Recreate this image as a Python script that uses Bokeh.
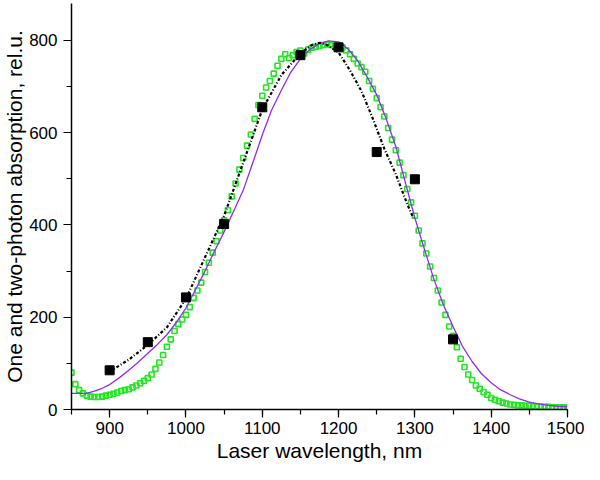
from bokeh.plotting import figure
from bokeh.models import Range1d, SingleIntervalTicker
from bokeh.embed import file_html
from bokeh.resources import INLINE

# Measured two-photon absorption (black squares)
meas_x = [900, 950, 1000, 1050, 1100, 1150, 1200, 1250, 1300, 1350]
meas_y = [85, 146, 243, 402, 655, 768, 785, 558, 499, 152]

# Fit through measured points (black dotted)
fit_x = [900, 925, 950, 975, 1000, 1025, 1050, 1075, 1100, 1125, 1150, 1165,
         1175, 1185, 1200, 1215, 1230, 1245, 1260, 1275, 1290, 1298]
fit_y = [82, 108, 140, 178, 240, 330, 420, 535, 650, 725, 772, 790,
         795, 790, 774, 735, 690, 630, 565, 510, 445, 415]

# One-photon absorption, calculated (violet line)
calc_x = [850, 870, 880, 890, 900, 912, 925, 937, 950, 962, 975, 987,
          1000, 1012, 1025, 1037, 1050, 1062, 1075, 1087, 1100, 1112,
          1125, 1137, 1150, 1162, 1175, 1187, 1200, 1212, 1225, 1237,
          1250, 1262, 1275, 1287, 1300, 1312, 1325, 1337, 1350, 1362,
          1375, 1387, 1400, 1412, 1425, 1437, 1450, 1462, 1475, 1487, 1500]
calc_y = [35, 35, 40, 46, 54, 68, 85, 102, 122, 140, 162, 188,
          220, 258, 300, 342, 385, 428, 475, 532, 595, 648,
          692, 730, 760, 780, 793, 799, 797, 782, 756, 722,
          682, 632, 570, 495, 415, 350, 282, 228, 180, 138,
          104, 78, 58, 43, 32, 23, 16, 12, 9, 7, 6]

# One-photon absorption spectrum (green open squares), 5 nm step from 850 nm
spec_x = list(range(850, 1505, 5))
spec_y = [80, 55, 42, 35, 30, 28, 27, 27, 28, 30,
          32, 34, 37, 40, 42, 44, 48, 52, 57, 62,
          68, 76, 88, 102, 118, 136, 152, 170, 185, 195,
          205, 222, 242, 258, 275, 298, 318, 340, 365, 388,
          410, 432, 462, 490, 520, 545, 572, 596, 630, 660,
          680, 698, 712, 728, 745, 760, 770, 762, 768, 775,
          778, 772, 780, 784, 786, 788, 790, 791, 790, 788,
          788, 785, 778, 770, 760, 750, 742, 732, 712, 695,
          675, 655, 635, 610, 585, 562, 535, 508, 478, 449,
          420, 388, 360, 338, 310, 285, 258, 232, 205, 180,
          160, 135, 110, 92, 76, 64, 52, 45, 38, 32,
          25, 21, 18, 15, 13, 11, 10, 9, 9, 8,
          8, 7, 7, 6, 6, 6, 5, 5, 5, 5, 4]

FONT = "Liberation Sans"

p = figure(width=584, height=464, output_backend="svg", toolbar_location=None,
           x_range=Range1d(850, 1500), y_range=Range1d(0, 880),
           min_border_left=0, min_border_right=17, min_border_top=3,
           min_border_bottom=0)
p.outline_line_color = None
p.xgrid.visible = False
p.ygrid.visible = False
p.background_fill_color = "white"
p.border_fill_color = "white"

p.xaxis.ticker = SingleIntervalTicker(interval=100, num_minor_ticks=2)
p.yaxis.ticker = SingleIntervalTicker(interval=200, num_minor_ticks=2)
p.xaxis.axis_label = "Laser wavelength, nm"
p.yaxis.axis_label = "One and two-photon absorption, rel.u."
for ax in (p.xaxis, p.yaxis):
    ax.axis_line_color = "black"
    ax.axis_line_width = 1.5
    ax.major_tick_line_color = "black"
    ax.minor_tick_line_color = "black"
    ax.major_tick_line_width = 1.2
    ax.minor_tick_line_width = 1.2
    ax.major_tick_out = 8
    ax.major_tick_in = 0
    ax.minor_tick_out = 5
    ax.minor_tick_in = 0
    ax.major_label_text_font = FONT
    ax.major_label_text_font_size = "17px"
    ax.major_label_text_color = "black"
    ax.axis_label_text_font = FONT
    ax.axis_label_text_font_size = "21px"
    ax.axis_label_text_font_style = "normal"
    ax.axis_label_text_color = "black"
p.xaxis.major_label_standoff = 4
p.yaxis.major_label_standoff = 6
p.xaxis.axis_label_standoff = 2
p.yaxis.axis_label_standoff = 0

p.scatter(spec_x, spec_y, marker="square", size=5, fill_color=None,
          line_color="#22e622", line_width=1.6)
p.line(calc_x, calc_y, line_color="#8f2cf0", line_width=1.3)
p.line(fit_x, fit_y, line_color="black", line_width=2.2, line_dash="3 2 1 2")
p.scatter(meas_x, meas_y, marker="square", size=9, fill_color="black",
          line_color="black")

open("out.html", "w").write(file_html(p, INLINE))
